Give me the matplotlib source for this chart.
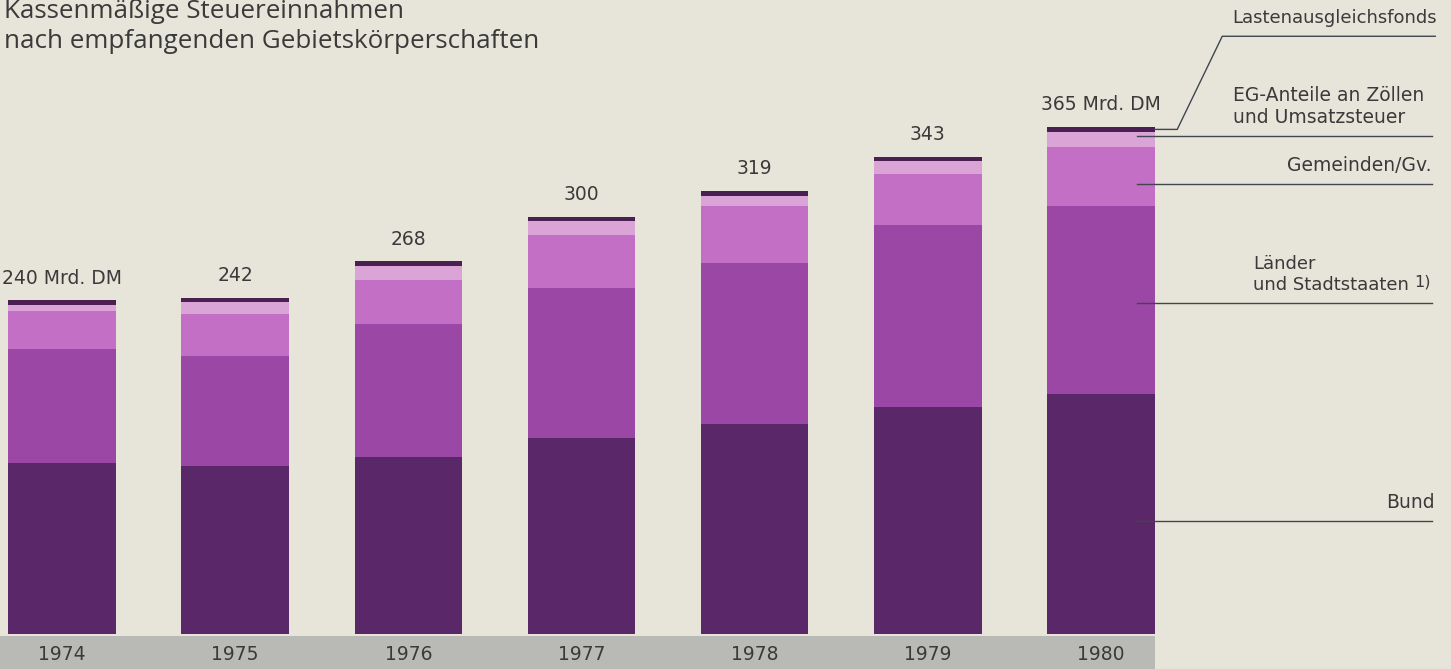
import numpy as np
import matplotlib.pyplot as plt
from matplotlib.patches import Rectangle

# -----------------------------
# Data (Mrd. DM)
# -----------------------------
years = ["1974", "1975", "1976", "1977", "1978", "1979", "1980"]
totals = ["240 Mrd. DM", "242", "268", "300", "319", "343", "365 Mrd. DM"]
bund = [123, 121, 127, 141, 151, 163, 173]
laender = [82, 79, 96, 108, 116, 131, 135]
gemeinden = [27, 30, 32, 38, 41, 37, 42]
eg = [5, 9, 10, 10, 7, 9, 11]
laf = [3, 3, 3, 3, 4, 3, 4]

series = [bund, laender, gemeinden, eg, laf]
colors = ["#5a2868", "#9b47a5", "#c46fc6", "#dba4d6", "#4a2052"]

BG = "#e7e4d9"
TXT = "#3a3a3a"
LINE = "#3f4650"
FS = 13.5

# -----------------------------
# Figure
# -----------------------------
fig = plt.figure(figsize=(14.51, 6.69), dpi=100, facecolor=BG)
ax = fig.add_axes([0, 0, 1, 1])
ax.set_facecolor(BG)
ax.set_xlim(-0.358, 8.021)
ax.set_ylim(-25.2, 456.1)
ax.axis("off")

x = np.arange(len(years))
width = 0.62

bottom = np.zeros(len(years))
for vals, col in zip(series, colors):
    ax.bar(x, vals, width, bottom=bottom, color=col, linewidth=0)
    bottom += np.array(vals)

# grey year band under the bars
right_edge = x[-1] + width / 2
ax.add_patch(Rectangle((-0.358, -25.2), right_edge + 0.358, 23.7,
                       facecolor="#b9b9b6", edgecolor="none"))
for xi, yr in zip(x, years):
    ax.text(xi, -14.5, yr, ha="center", va="center", fontsize=FS, color=TXT)

# value labels on top
for xi, top, lab in zip(x, bottom, totals):
    ax.text(xi, top + 16, lab, ha="center", va="center", fontsize=FS, color=TXT)

# -----------------------------
# Legend on the right with leader lines (anchored on the 1980 bar)
# -----------------------------
last = [s[-1] for s in series]
cum = np.cumsum([0] + last)
line_start = x[-1] + width / 2 - 0.1
line_end = 7.91
left_txt = 6.76
right_txt = 7.91

y_bund = cum[0] + last[0] * 0.47
y_land = cum[1] + last[1] * 0.48
y_gem = cum[2] + last[2] * 0.37
y_eg = cum[3] + last[3] * 0.75
for yy in [y_bund, y_land, y_gem, y_eg]:
    ax.plot([line_start, line_end], [yy, yy], color=LINE, lw=1.0)

ax.text(right_txt + 0.015, y_bund + 13.5, "Bund", ha="right", va="center", fontsize=FS, color=TXT)
ax.text(6.88, y_land + 28.5, "Länder", ha="left", va="center", fontsize=13, color=TXT)
ax.text(6.88, y_land + 13.5, "und Stadtstaaten", ha="left", va="center", fontsize=13, color=TXT)
ax.text(7.905, y_land + 15.5, "1)", ha="right", va="center", fontsize=11.5, color=TXT)
ax.text(right_txt, y_gem + 13.5, "Gemeinden/Gv.", ha="right", va="center", fontsize=FS, color=TXT)
ax.text(left_txt, y_eg + 29.5, "EG-Anteile an Zöllen", ha="left", va="center", fontsize=FS, color=TXT)
ax.text(left_txt, y_eg + 13.5, "und Umsatzsteuer", ha="left", va="center", fontsize=FS, color=TXT)

# Lastenausgleichsfonds: bent leader from the top of the 1980 bar
y_laf = cum[4] + last[4] * 0.5
y_laf_top = 430
ax.plot([x[-1] + width / 2, 6.44, 6.70, line_end + 0.02],
        [y_laf, y_laf, y_laf_top, y_laf_top], color=LINE, lw=1.0)
ax.text(left_txt, y_laf_top + 13.5, "Lastenausgleichsfonds", ha="left", va="center",
        fontsize=13, color=TXT)

# -----------------------------
# Title
# -----------------------------
fig.text(0.003, 1 - 18 / 669, "Kassenmäßige Steuereinnahmen", ha="left", va="baseline",
         fontsize=18.7, color=TXT, family="Open Sans")
fig.text(0.003, 1 - 48 / 669, "nach empfangenden Gebietskörperschaften", ha="left",
         va="baseline", fontsize=18.7, color=TXT, family="Open Sans")

fig.savefig("out.png", dpi=100, facecolor=BG)
